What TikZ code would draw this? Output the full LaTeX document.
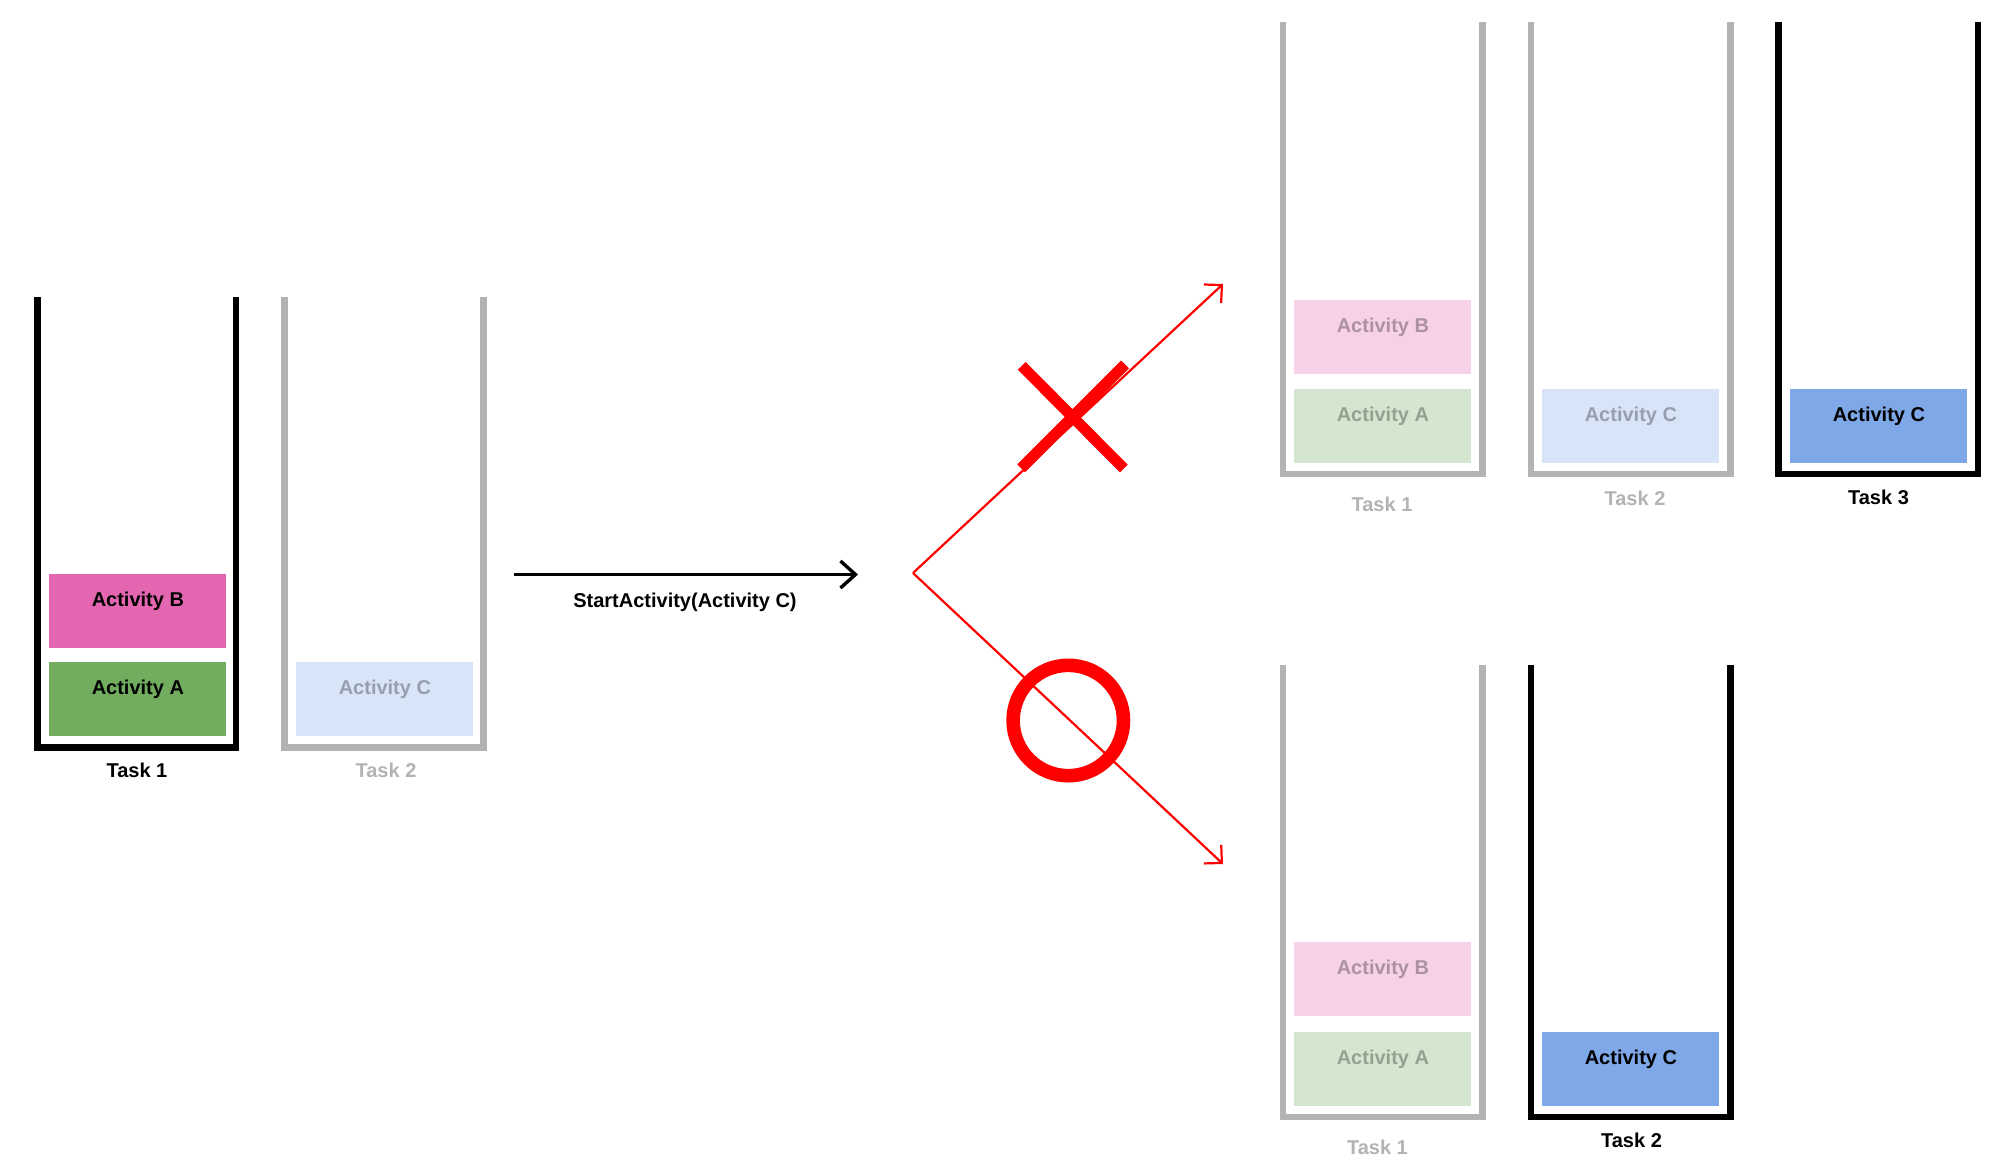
\documentclass[tikz,border=0pt]{standalone}
\usepackage{fontspec}
\setmainfont{Liberation Sans}
\usetikzlibrary{arrows.meta}
\definecolor{pinkB}{HTML}{E566B0}
\definecolor{greenA}{HTML}{72AD5F}
\definecolor{blueC}{HTML}{7EA8E8}
\definecolor{wallgray}{HTML}{B3B3B3}
\definecolor{xred}{HTML}{FF0000}
\begin{document}
\begin{tikzpicture}[x=0.5pt,y=-0.5pt,
  font=\fontsize{10}{12}\selectfont\bfseries,
  wallon/.style={draw=black,line width=3.25pt,line join=miter},
  walloff/.style={draw=wallgray,line width=3.25pt,line join=miter},
  actbox/.style={anchor=north west,minimum width=88.5pt,inner sep=0pt,
    text height=16.25pt,text depth=20.75pt,text=black},
  dimbox/.style={fill opacity=0.3,text opacity=0.3},
  tasklbl/.style={anchor=base,inner sep=0pt},
  taskon/.style={tasklbl,text=black},
  taskoff/.style={tasklbl,text=wallgray},
  redarrow/.style={draw=xred,line width=1.1pt,-{Straight Barb[length=6.4pt,width=12.7pt]}},
  blackarrow/.style={draw=black,line width=1.7pt,-{Straight Barb[length=7.5pt,width=13.5pt]}},
  markx/.style={draw=xred,line width=5.5pt},
  marko/.style={draw=xred,line width=6.8pt}
]
\useasboundingbox (0,0) rectangle (2008,1172);

% ---------- left: before ----------
\draw[wallon]  (37.7,297) -- (37.7,747.5) -- (236,747.5) -- (236,297);
\draw[walloff] (284.5,297) -- (284.5,747.5) -- (483.7,747.5) -- (483.7,297);
\node[actbox,fill=pinkB]  (LB) at (49,573.5) {Activity B};
\node[actbox,fill=greenA] (LA) at (49,662) {Activity A};
\node[actbox,fill=blueC,dimbox] (LC) at (296,662) {Activity C};
\node[taskon]  (Lt1) at (137,777.5) {Task 1};
\node[taskoff] (Lt2) at (386,777.5) {Task 2};

% ---------- call arrow ----------
\coordinate (callS) at (514,574.5);
\coordinate (callE) at (858,574.5);
\draw[blackarrow] (callS) -- (callE);
\node[tasklbl,text=black] (call) at (685,607) {StartActivity(Activity C)};

% ---------- fork ----------
\coordinate (fork) at (913,573);
\coordinate (upTip) at (1223,284);
\coordinate (downTip) at (1223,864);
\draw[redarrow] (fork) -- (upTip);
\draw[redarrow] (fork) -- (downTip);
\coordinate (xa1) at (1021.7,365.8);
\coordinate (xa2) at (1123.8,468.5);
\coordinate (xb1) at (1021.2,468.3);
\coordinate (xb2) at (1125,364.5);
\draw[markx] (xa1) -- (xa2);
\draw[markx] (xb1) -- (xb2);
\coordinate (oc) at (1068.3,720.5);
\draw[marko] (oc) circle[radius=27.6pt];

% ---------- top right: new task ----------
\draw[walloff] (1282.8,22) -- (1282.8,474) -- (1482.7,474) -- (1482.7,22);
\draw[walloff] (1531,22) -- (1531,474) -- (1730.5,474) -- (1730.5,22);
\draw[wallon]  (1778.5,22) -- (1778.5,474) -- (1978,474) -- (1978,22);
\node[actbox,fill=pinkB,dimbox]  (TB) at (1294,299.5) {Activity B};
\node[actbox,fill=greenA,dimbox] (TA) at (1294,388.5) {Activity A};
\node[actbox,fill=blueC,dimbox]  (TC2) at (1542,388.5) {Activity C};
\node[actbox,fill=blueC]         (TC3) at (1790,388.5) {Activity C};
\node[taskoff] (Tt1) at (1382,511) {Task 1};
\node[taskoff] (Tt2) at (1635,505.5) {Task 2};
\node[taskon]  (Tt3) at (1878.5,504.5) {Task 3};

% ---------- bottom right: existing task ----------
\draw[walloff] (1282.8,665) -- (1282.8,1117) -- (1482.7,1117) -- (1482.7,665);
\draw[wallon]  (1531,665) -- (1531,1117) -- (1730.5,1117) -- (1730.5,665);
\node[actbox,fill=pinkB,dimbox]  (BB) at (1294,942) {Activity B};
\node[actbox,fill=greenA,dimbox] (BA) at (1294,1031.5) {Activity A};
\node[actbox,fill=blueC]         (BC) at (1542,1031.5) {Activity C};
\node[taskoff] (Bt1) at (1377.4,1154) {Task 1};
\node[taskon]  (Bt2) at (1631.5,1147) {Task 2};
\end{tikzpicture}
\end{document}
